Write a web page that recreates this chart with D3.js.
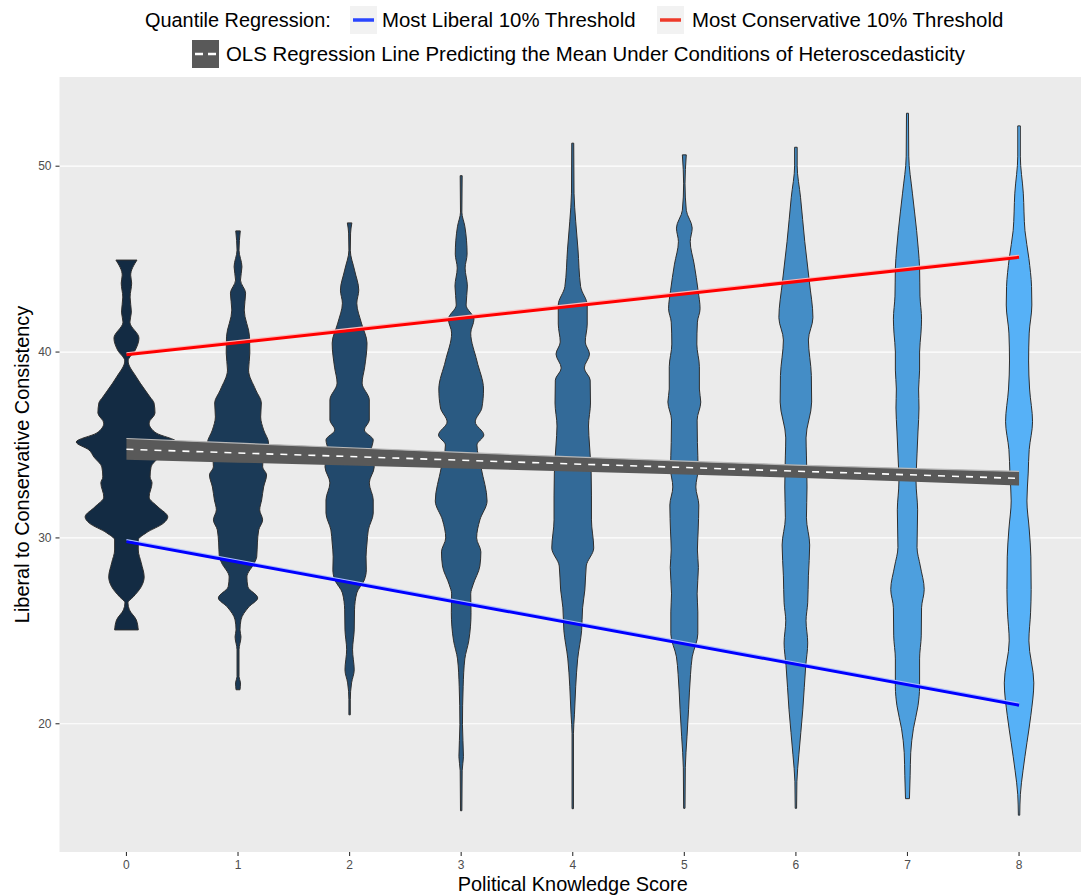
<!DOCTYPE html>
<html>
<head>
<meta charset="utf-8">
<script src="https://cdn.jsdelivr.net/npm/d3@7"></script>
<style>
  body { margin: 0; background: #fff; }
  text { font-family: "Liberation Sans", Arial, Helvetica, sans-serif; }
</style>
</head>
<body>
<div id="chart"></div>
<script>
// knowledge score categories
const scores = ["0", "1", "2", "3", "4", "5", "6", "7", "8"];

// violin outlines: [consistency value, relative density]
const violin0 = [[44.95,10.7],[44.14,4.3],[43.71,5.3],[42.96,3.7],[42.15,5],[41.61,3.5],[40.75,12.7],[40.11,9],[39.52,1.7],[38.66,10],[38.33,14],[37.58,24],[37.26,28],[36.72,29],[36.18,23],[35.65,30],[35.16,51],[34.73,38],[34.35,33],[33.82,25],[33.28,24],[32.96,26],[32.2,23],[31.67,32],[31.13,42],[30.81,38],[30.27,20],[29.89,12],[29.35,12],[28.66,15],[27.9,18],[27.37,15],[26.83,7],[26.51,1.5],[26.13,3],[25.59,10],[25.05,12]];
const violin1 = [[46.52,2.3],[45.48,1],[44.59,4],[43.87,2.5],[43.17,7.7],[42.26,6.3],[40.82,11.7],[39.95,12],[39.03,10.7],[37.96,18],[37.26,23.7],[36.51,23],[35.81,26],[35.11,31],[34.35,26],[33.82,25],[33.39,29],[32.74,26],[32.04,24],[31.51,22],[30.97,25],[30.43,21],[29.73,19.7],[28.98,19],[28.66,16.7],[27.9,9],[27.37,10],[26.77,20],[26.29,11],[25.59,3],[25.05,2],[24.68,3],[23.98,1],[22.53,1],[22.2,2.5],[21.83,2]];
const violin2 = [[46.95,2.3],[46.4,1],[45.48,0.7],[44.41,5],[43.33,9.3],[42.63,7.3],[41.56,12],[40.48,17.7],[39.19,15.3],[38.33,12.7],[37.42,20],[36.34,20],[35.81,15],[35.27,24],[34.73,22],[33.82,25],[32.96,20],[32.04,24],[31.34,24],[30.43,19],[29.73,17.7],[28.98,16.7],[28.28,17],[27.74,15],[27.04,7.3],[26.13,5],[25.05,4.7],[23.98,3],[22.9,4.7],[22.2,2],[21.29,0.7],[20.48,0.7]];
const violin3 = [[49.49,1],[47.53,0.7],[46.77,3.7],[45.27,6],[44.52,4],[43.55,6.3],[42.53,5],[41.77,13],[41.02,9.7],[39.52,16],[38.01,22.7],[36.99,21],[36.24,14.3],[35.54,23],[35.0,16],[33.76,20.3],[31.99,26.3],[30.97,19],[30.0,15.7],[29.25,20],[28.49,19],[27.47,12],[26.99,9.7],[25.97,10],[24.46,7.7],[23.49,3.7],[21.99,2],[19.95,1.3],[18.23,2.3],[17.47,1],[15.32,0.7]];
const violin4 = [[51.24,1],[48.55,1.3],[47.04,3],[45.54,5.3],[43.52,8],[42.53,14.7],[41.51,14.7],[40.54,12.7],[39.89,17],[39.14,11.7],[38.49,17.7],[37.26,18],[36.02,16],[35.0,17],[33.49,18.7],[32.26,19],[30.97,19],[29.46,21.3],[28.49,13.7],[27.2,12.3],[26.24,10],[25.0,9],[23.49,5],[21.99,3],[20.48,1.7],[19.46,0.7],[15.43,0.7]];
const violin5 = [[50.61,2],[49.05,0.7],[47.63,2],[46.67,8],[45.94,6],[44.73,10],[43.3,14],[42.33,16],[41.61,13.3],[40.43,12.7],[39.21,15.3],[38.01,15.3],[37.31,16.7],[36.34,13],[35.13,13.3],[33.71,14],[32.74,11.7],[31.77,14.7],[30.32,14],[29.35,13.3],[28.41,14.3],[26.99,13],[26.02,13.7],[24.84,13.7],[23.6,8],[22.66,6.3],[20.75,4.3],[19.3,2.7],[17.63,1],[15.45,0.7]];
const violin6 = [[51.02,1.3],[50.02,1.3],[48.33,4.7],[45.94,9],[43.77,13.7],[41.85,17.3],[40.65,12.7],[38.74,15.7],[37.31,16],[35.38,10.3],[34.41,10.7],[32.74,11.3],[31.08,10.7],[29.62,14],[27.96,12.7],[26.51,12],[25.54,10.3],[24.35,12],[23.13,10],[20.75,7],[18.33,3],[16.88,1],[15.45,0.7]];
const violin7 = [[52.85,1],[50.54,1.3],[48.55,5],[46.53,9.3],[45.54,11],[44.52,12.3],[43.01,12.7],[41.77,14.3],[41.02,13.7],[40.0,12.3],[39.03,12.3],[38.01,11.3],[36.99,11.7],[35.75,10.7],[34.52,9.7],[33.01,8.7],[31.51,10.3],[30.48,10],[29.49,9.7],[28.49,13],[27.23,17],[26.24,14.3],[24.73,14],[23.49,12.3],[21.99,12.3],[20.97,10.7],[19.73,6],[18.44,3.3],[17.2,2.7],[15.97,2]];
const violin8 = [[52.17,1.3],[50.54,1.3],[48.55,4.3],[46.53,6],[45.03,10],[43.52,12.7],[42.53,13],[41.02,10.3],[39.52,9.7],[38.01,10.7],[36.25,13.7],[34.75,10.3],[33.49,9.3],[31.99,8],[30.48,10.3],[28.98,12],[27.23,12.3],[25.97,11.7],[24.46,10],[22.2,15],[20.46,12],[18.98,8],[17.47,4],[16.18,1.3],[15.08,0.7]];
const violins = [violin0, violin1, violin2, violin3, violin4, violin5, violin6, violin7, violin8];

// regression lines, value at score 0 and score 8
const liberalQuantile = [29.8, 21.0];
const conservativeQuantile = [39.85, 45.1];

// OLS fit with its confidence band, one value per score
const olsFit   = [34.77, 34.57, 34.38, 34.18, 33.98, 33.79, 33.59, 33.40, 33.20];
const olsUpper = [35.35, 35.10, 34.85, 34.60, 34.36, 34.13, 33.92, 33.74, 33.58];
const olsLower = [34.20, 34.05, 33.90, 33.74, 33.58, 33.41, 33.24, 33.03, 32.82];

const yTicks = [20, 30, 40, 50];

const W = 1081, H = 895;
const panel = { left: 59.5, right: 1086, top: 77, bottom: 852 };

const svg = d3.select("#chart").append("svg")
  .attr("width", W)
  .attr("height", H)
  .attr("viewBox", `0 0 ${W} ${H}`);

const x = d3.scalePoint()
  .domain(scores)
  .range([panel.left, panel.right])
  .padding(0.6);

const y = d3.scaleLinear()
  .domain([13.1, 54.8])
  .range([panel.bottom, panel.top]);

const maxDensity = d3.max(violins, v => d3.max(v, d => d[1]));
const w = d3.scaleLinear()
  .domain([0, maxDensity])
  .range([0, x.step() * 0.45]);

const fill = d3.scaleSequential(d3.interpolateLab("#132B43", "#56B1F7"))
  .domain([0, scores.length - 1]);

// panel
svg.append("rect")
  .attr("x", panel.left)
  .attr("y", panel.top)
  .attr("width", panel.right - panel.left)
  .attr("height", panel.bottom - panel.top)
  .attr("fill", "#EBEBEB");

svg.append("g")
  .selectAll("line")
  .data(yTicks)
  .enter()
  .append("line")
  .attr("x1", panel.left)
  .attr("x2", panel.right)
  .attr("y1", d => y(d))
  .attr("y2", d => y(d))
  .attr("stroke", "#fff")
  .attr("stroke-width", 1.2);

// violins
const violinArea = (cx) => d3.area()
  .y(d => y(d[0]))
  .x0(d => cx - w(d[1]))
  .x1(d => cx + w(d[1]))
  .curve(d3.curveMonotoneY);

svg.append("g")
  .selectAll("path")
  .data(violins)
  .enter()
  .append("path")
  .attr("d", (d, i) => violinArea(x(scores[i]))(d))
  .attr("fill", (d, i) => fill(i))
  .attr("stroke", "#2e2e2e")
  .attr("stroke-width", 1);

// quantile lines
const x0 = x(scores[0]), x8 = x(scores[scores.length - 1]);

function quantileLine(vals, color, glow) {
  svg.append("line")
    .attr("x1", x0).attr("x2", x8)
    .attr("y1", y(vals[0]) - 1.8).attr("y2", y(vals[1]) - 1.8)
    .attr("stroke", glow)
    .attr("stroke-width", 1.6);
  svg.append("line")
    .attr("x1", x0).attr("x2", x8)
    .attr("y1", y(vals[0])).attr("y2", y(vals[1]))
    .attr("stroke", color)
    .attr("stroke-width", 3);
}

// OLS band
const band = scores.map((s, i) => ({ s, lo: olsLower[i], hi: olsUpper[i], fit: olsFit[i] }));

svg.append("path")
  .datum(band)
  .attr("d", d3.area().x(d => x(d.s)).y0(d => y(d.lo)).y1(d => y(d.hi)))
  .attr("fill", "#595959");

svg.append("path")
  .datum(band)
  .attr("d", d3.line().x(d => x(d.s)).y(d => y(d.hi)))
  .attr("fill", "none")
  .attr("stroke", "#b8b8b8")
  .attr("stroke-width", 1.2);

svg.append("path")
  .datum(band)
  .attr("d", d3.line().x(d => x(d.s)).y(d => y(d.fit)))
  .attr("fill", "none")
  .attr("stroke", "#fff")
  .attr("stroke-width", 1.6)
  .attr("stroke-dasharray", "7,7");

quantileLine(conservativeQuantile, "#FF0000", "#ffb8b8");
quantileLine(liberalQuantile, "#0000FF", "#a8bcff");

// axes
const axisColor = "#333";
const yAxis = svg.append("g");
yTicks.forEach(t => {
  yAxis.append("line")
    .attr("x1", panel.left - 4).attr("x2", panel.left)
    .attr("y1", y(t)).attr("y2", y(t))
    .attr("stroke", axisColor).attr("stroke-width", 1.1);
  yAxis.append("text")
    .attr("x", panel.left - 8)
    .attr("y", y(t))
    .attr("dy", "0.35em")
    .attr("text-anchor", "end")
    .attr("font-size", 12)
    .attr("fill", "#4D4D4D")
    .text(t);
});

const xAxis = svg.append("g");
scores.forEach(s => {
  xAxis.append("line")
    .attr("x1", x(s)).attr("x2", x(s))
    .attr("y1", panel.bottom).attr("y2", panel.bottom + 4)
    .attr("stroke", axisColor).attr("stroke-width", 1.1);
  xAxis.append("text")
    .attr("x", x(s))
    .attr("y", panel.bottom + 13)
    .attr("dy", "0.35em")
    .attr("text-anchor", "middle")
    .attr("font-size", 12)
    .attr("fill", "#4D4D4D")
    .text(s);
});

svg.append("text")
  .attr("x", (panel.left + panel.right) / 2)
  .attr("y", 884)
  .attr("dy", "0.35em")
  .attr("text-anchor", "middle")
  .attr("font-size", 19.9)
  .text("Political Knowledge Score");

svg.append("text")
  .attr("transform", `translate(22,${(panel.top + panel.bottom) / 2}) rotate(-90)`)
  .attr("dy", "0.35em")
  .attr("text-anchor", "middle")
  .attr("font-size", 19.9)
  .text("Liberal to Conservative Consistency");

// legend
const legend = svg.append("g");
const row1 = 20, row2 = 54;
const legendSize = 20.4;

legend.append("text")
  .attr("x", 145).attr("y", row1).attr("dy", "0.35em")
  .attr("font-size", 19.9)
  .text("Quantile Regression:");

function lineKey(kx, ky, color) {
  legend.append("rect")
    .attr("x", kx).attr("y", ky - 14)
    .attr("width", 27).attr("height", 28)
    .attr("fill", "#F2F2F2");
  legend.append("line")
    .attr("x1", kx + 3).attr("x2", kx + 24)
    .attr("y1", ky).attr("y2", ky)
    .attr("stroke", color).attr("stroke-width", 3.5);
}

lineKey(350, row1, "#2a46ff");
legend.append("text")
  .attr("x", 382).attr("y", row1).attr("dy", "0.35em")
  .attr("font-size", legendSize)
  .text("Most Liberal 10% Threshold");

lineKey(657, row1, "#ee3a2a");
legend.append("text")
  .attr("x", 692).attr("y", row1).attr("dy", "0.35em")
  .attr("font-size", legendSize)
  .text("Most Conservative 10% Threshold");

legend.append("rect")
  .attr("x", 192).attr("y", row2 - 14)
  .attr("width", 27).attr("height", 28)
  .attr("fill", "#595959");
legend.append("line")
  .attr("x1", 195).attr("x2", 216)
  .attr("y1", row2).attr("y2", row2)
  .attr("stroke", "#fff").attr("stroke-width", 2.5)
  .attr("stroke-dasharray", "8,5");
legend.append("text")
  .attr("x", 226).attr("y", row2).attr("dy", "0.35em")
  .attr("font-size", legendSize)
  .text("OLS Regression Line Predicting the Mean Under Conditions of Heteroscedasticity");
</script>
</body>
</html>
